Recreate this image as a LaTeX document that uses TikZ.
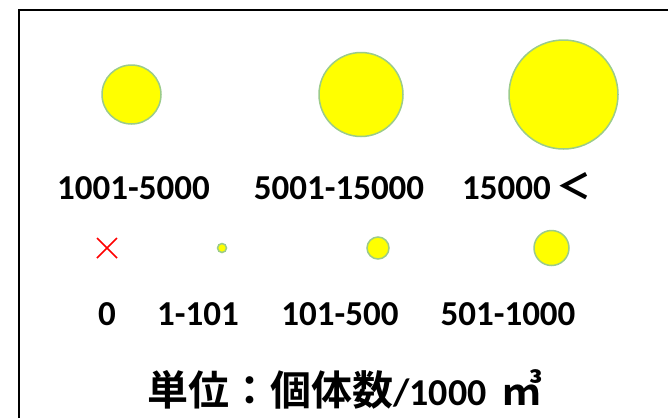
\documentclass[tikz,border=0pt]{standalone}
\usepackage{fontspec}
\usetikzlibrary{calc}
\setmainfont{Carlito}
\newfontfamily\cjk{Noto Sans CJK JP}
\newfontfamily\cjkb{Noto Sans CJK JP Bold}
\definecolor{bubfill}{RGB}{255,255,0}
\definecolor{bubline}{RGB}{155,203,138}
\begin{document}
\begin{tikzpicture}[x=1pt,y=-1pt,
  bub/.style={circle,fill=bubfill,draw=bubline,line width=1.5pt,inner sep=0pt,minimum size=#1},
  lab/.style={font=\fontsize{35}{35}\selectfont\bfseries,inner sep=0pt,anchor=base}]
\useasboundingbox (0,0) rectangle (668,418);
\draw[line width=2pt] (19,418) -- (19,10) -- (668,10);
% big row
\node[bub=59pt] (c1) at (131.5,94.5) {};
\node[bub=84pt] (c2) at (361,94.5) {};
\node[bub=109pt] (c3) at (563.5,94.5) {};
\node[lab] (l1) at (133.5,199) {1001-5000};
\node[lab] (l2) at (339,199) {5001-15000};
\node[lab] (l3) at (527,199) {15000\,{\cjk\fontsize{35}{35}\selectfont ＜}};
% small row
\coordinate (x0) at (107,248);
\draw[red,line width=1.5pt] ($(x0)+(-10,-10)$) -- ($(x0)+(10,10)$) ($(x0)+(-10,10)$) -- ($(x0)+(10,-10)$);
\node[bub=9pt] (s1) at (222,248) {};
\node[bub=22pt] (s2) at (378,248) {};
\node[bub=35pt] (s3) at (551.5,248) {};
\node[lab] (m0) at (107,325) {0};
\node[lab] (m1) at (198,325) {1-101};
\node[lab] (m2) at (340,325) {101-500};
\node[lab] (m3) at (508,325) {501-1000};
% unit
\node[inner sep=0pt,anchor=base] (u) at (345,405) {{\cjkb\fontsize{41}{41}\selectfont 単位：個体数}{\fontsize{38}{38}\selectfont\bfseries/1000\hspace{15pt}}{\cjkb\fontsize{41}{41}\selectfont ㎥}};
\end{tikzpicture}
\end{document}
